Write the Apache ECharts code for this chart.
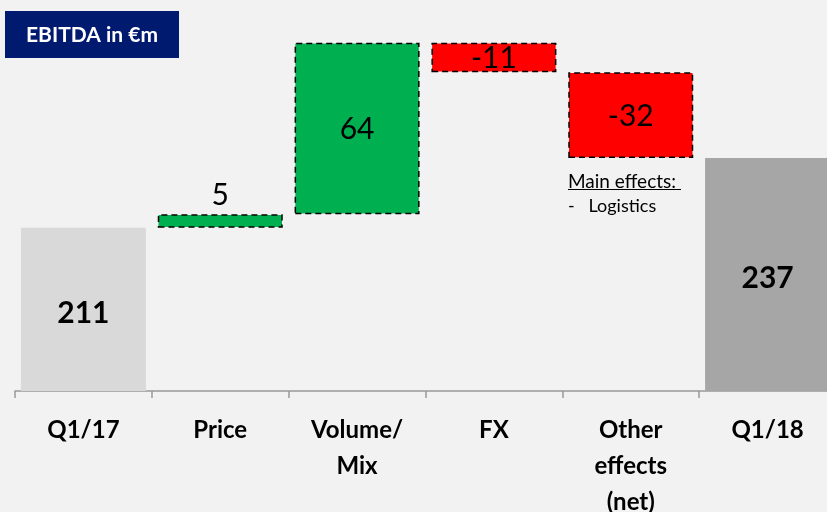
<!DOCTYPE html>
<html>
<head>
    <meta charset="utf-8">
    <title>EBITDA in €m</title>
    <script src="https://cdn.jsdelivr.net/npm/echarts@6/dist/echarts.min.js"></script>
    <style>
        html, body { margin: 0; padding: 0; background: #f2f2f2; }
        #chart { width: 827px; height: 512px; }
    </style>
</head>
<body>
<div id="chart"></div>
<script type="text/javascript">
    // 数据
    var categories = ['Q1/17', 'Price', 'Volume/\nMix', 'FX', 'Other\neffects\n(net)', 'Q1/18'];
    var changes = [211, 5, 64, -11, -32, 237];   // 带符号的值
    var kinds = ['total', 'step', 'step', 'step', 'step', 'total'];
    var colors = ['#d9d9d9', '#00b050', '#00b050', '#ff0000', '#ff0000', '#a6a6a6'];

    // 计算瀑布图的透明底座
    var baseData = [];
    var barData = [];
    var running = 0;
    for (var i = 0; i < changes.length; i++) {
        var v = changes[i];
        if (kinds[i] === 'total') {
            baseData.push(0);
            barData.push(v);
            running = v;
        } else {
            var lo = v >= 0 ? running : running + v;
            baseData.push(lo);
            barData.push(Math.abs(v));
            running += v;
        }
    }

    var font = 'Lato, "Open Sans", sans-serif';

    var items = barData.map(function (v, i) {
        var step = kinds[i] === 'step';
        var it = {
            value: v,
            itemStyle: {
                color: colors[i],
                borderColor: step ? '#000' : colors[i],
                borderWidth: step ? 1.5 : 0,
                borderType: step ? [6, 4] : 'solid'
            },
            label: {
                position: 'inside',
                fontWeight: step ? 'normal' : 'bold',
                fontSize: 30,
                offset: step ? [0, 1] : [0, 4]
            }
        };
        if (i === 1) {
            it.label.position = 'top';
            it.label.distance = 4;
            it.label.offset = [0, 0];
        }
        return it;
    });

    var myChart = echarts.init(document.getElementById('chart'));
    myChart.setOption({
        backgroundColor: '#f2f2f2',
        animation: false,
        grid: { left: 15, top: 0, width: 821, height: 391, outerBoundsMode: 'none', containLabel: false },
        xAxis: {
            type: 'category',
            data: categories,
            axisLine: { lineStyle: { color: '#999', width: 1.5 } },
            axisTick: { show: true, length: 7, lineStyle: { color: '#999', width: 1.5 } },
            axisLabel: {
                interval: 0,
                margin: 21,
                color: '#000',
                fontFamily: font,
                fontWeight: 'bold',
                fontSize: 24,
                lineHeight: 36
            }
        },
        yAxis: { type: 'value', min: 150, max: 296, show: false, splitLine: { show: false } },
        series: [
            {
                type: 'bar',
                stack: 'wf',
                data: baseData,
                barWidth: 125,
                itemStyle: { color: 'transparent' },
                silent: true
            },
            {
                type: 'bar',
                stack: 'wf',
                data: items,
                barWidth: 125,
                label: {
                    show: true,
                    color: '#000',
                    fontFamily: font,
                    formatter: function (p) { return String(changes[p.dataIndex]); }
                }
            }
        ],
        graphic: [
            {
                type: 'rect',
                shape: { x: 5, y: 11, width: 174, height: 47 },
                style: { fill: '#001a70' }
            },
            {
                type: 'text',
                x: 92, y: 35,
                style: {
                    text: 'EBITDA in €m', fill: '#fff', font: 'bold 21px ' + font,
                    align: 'center', verticalAlign: 'middle'
                }
            },
            {
                type: 'text',
                x: 568, y: 191,
                style: { text: 'Main effects:', fill: '#000', font: '19px ' + font, verticalAlign: 'bottom' }
            },
            {
                type: 'line',
                shape: { x1: 568, y1: 189.5, x2: 681, y2: 189.5 },
                style: { stroke: '#000', lineWidth: 1 }
            },
            {
                type: 'text',
                x: 568, y: 215,
                style: { text: '-   Logistics', fill: '#000', font: '18px ' + font, verticalAlign: 'bottom' }
            }
        ]
    });
</script>
</body>
</html>
